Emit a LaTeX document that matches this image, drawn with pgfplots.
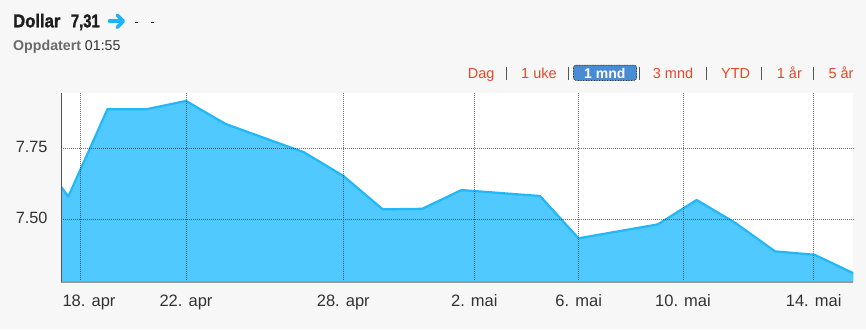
\documentclass[border=0pt]{standalone}
\usepackage{pgfplots}
\pgfplotsset{compat=1.18}
\usepackage{pgfplotstable}
\usepackage{fontspec}
\setmainfont{Liberation Sans}
\newfontfamily\headfont{Liberation Sans}[BoldFeatures={FakeBold=1.6}]

\definecolor{pagebg}{HTML}{F7F7F7}
\definecolor{areafill}{HTML}{4FC9FF}
\definecolor{arealine}{HTML}{22B7F7}
\definecolor{tickgray}{HTML}{333333}
\definecolor{axisgray}{HTML}{9A9A9A}
\definecolor{leftaxis}{HTML}{555555}
\definecolor{btnred}{HTML}{E5472A}
\definecolor{btnblue}{HTML}{4A8CD3}
\definecolor{titleblack}{HTML}{1E1E1E}
\definecolor{subgray}{HTML}{6A6A6A}
\definecolor{arrowblue}{HTML}{1FB3F5}

% USD/NOK closing rates, one row per trading day (x in chart units)
\pgfplotstableread{
x      y
61     7.615
68.3   7.580
107.5  7.888
146.7  7.888
186    7.917
225.5  7.836
304    7.736
343.3  7.653
382.7  7.535
422.2  7.537
461.5  7.603
540    7.582
578.5  7.433
657.7  7.482
696.7  7.568
735    7.488
775    7.387
814.5  7.375
853.3  7.310
}\rates

\begin{document}
\begin{tikzpicture}
\fill[pagebg] (0pt,0pt) rectangle (866pt,-329pt);

\begin{axis}[
  at={(61pt,-282pt)}, anchor=south west,
  scale only axis, width=792.3pt, height=189pt,
  xmin=61, xmax=853.3, ymin=7.279, ymax=7.945,
  axis background/.style={fill=white},
  axis on top,
  axis x line=bottom, axis y line=left,
  x axis line style={-, draw=axisgray, line width=2.5pt},
  y axis line style={-, draw=leftaxis, line width=0.8pt},
  major tick length=0pt, tick style={draw=none},
  grid=major,
  major grid style={draw=black, opacity=0.55, line width=0.7pt, dash pattern=on 1pt off 1pt},
  xtick={80.3,186,343.3,474.3,578.7,683,813.7},
  xticklabels={\hspace*{17.4pt}18. apr,22. apr,28. apr,2. mai,6. mai,10. mai,14. mai},
  ytick={7.5,7.75},
  yticklabels={7.50,7.75},
  xticklabel style={anchor=base, inner sep=0pt, yshift=-24.7pt,
    font=\fontsize{16.5}{18}\selectfont, text=tickgray},
  yticklabel style={anchor=base east, inner sep=0pt, xshift=-13.3pt, yshift=-4pt,
    font=\fontsize{16.3}{18}\selectfont, text=tickgray},
]
\addplot[draw=none, fill=areafill] table[x=x, y=y] {\rates} \closedcycle;
\addplot[draw=arealine, line width=2.2pt, line join=round, mark=none] table[x=x, y=y] {\rates};
\end{axis}

\begin{scope}[x=1pt, y=-1pt]
  % header
  \node[anchor=base west, inner sep=0pt, text=titleblack] at (13,27.3)
    {\scalebox{0.9}[1]{\headfont\fontsize{18.5}{20}\selectfont\bfseries Dollar}};
  \node[anchor=base west, inner sep=0pt, text=titleblack] at (70.7,27.3)
    {\scalebox{0.8}[1]{\headfont\fontsize{18.5}{20}\selectfont\bfseries 7,31}};
  \draw[arrowblue, line width=3.5pt, line cap=round] (109.5,21.2) -- (121.5,21.2);
  \draw[arrowblue, line width=3.5pt, line cap=round, line join=round]
    (117.2,15) -- (123.3,21.2) -- (117.2,27.4);
  \draw[titleblack, line width=1.3pt] (135,22.7) -- (138.3,22.7);
  \draw[titleblack, line width=1.3pt] (150.7,22.7) -- (154,22.7);

  \node[anchor=base west, inner sep=0pt] at (13,50.7)
    {\fontsize{14.2}{16}\selectfont\textcolor{subgray}{\bfseries Oppdatert} \textcolor{tickgray}{01:55}};

  % period selector
  \fill[btnblue, rounded corners=3pt] (573.3,65) rectangle (636.7,80.5);
  \draw[black, line width=0.5pt, dash pattern=on 0.8pt off 0.8pt, rounded corners=3pt]
    (573.3,65) rectangle (636.7,80.5);
  \node[anchor=base west, inner sep=0pt, text=white] at (584,78.8)
    {\fontsize{14}{16}\selectfont\bfseries 1 mnd};
  \foreach \px/\lbl in {467.7/Dag, 521/1 uke, 652.7/3 mnd, 721/YTD, 776.7/1 år, 828.3/5 år}
    \node[anchor=base west, inner sep=0pt, text=btnred] at (\px,78.3)
      {\fontsize{14.5}{16}\selectfont \lbl};
  \foreach \px in {506.7, 568.3, 639, 706.7, 761.7, 813.3}
    \draw[leftaxis, line width=0.8pt] (\px,67) -- (\px,80);
\end{scope}

\pgfresetboundingbox
\useasboundingbox (0pt,0pt) rectangle (866pt,-329pt);
\end{tikzpicture}
\end{document}
